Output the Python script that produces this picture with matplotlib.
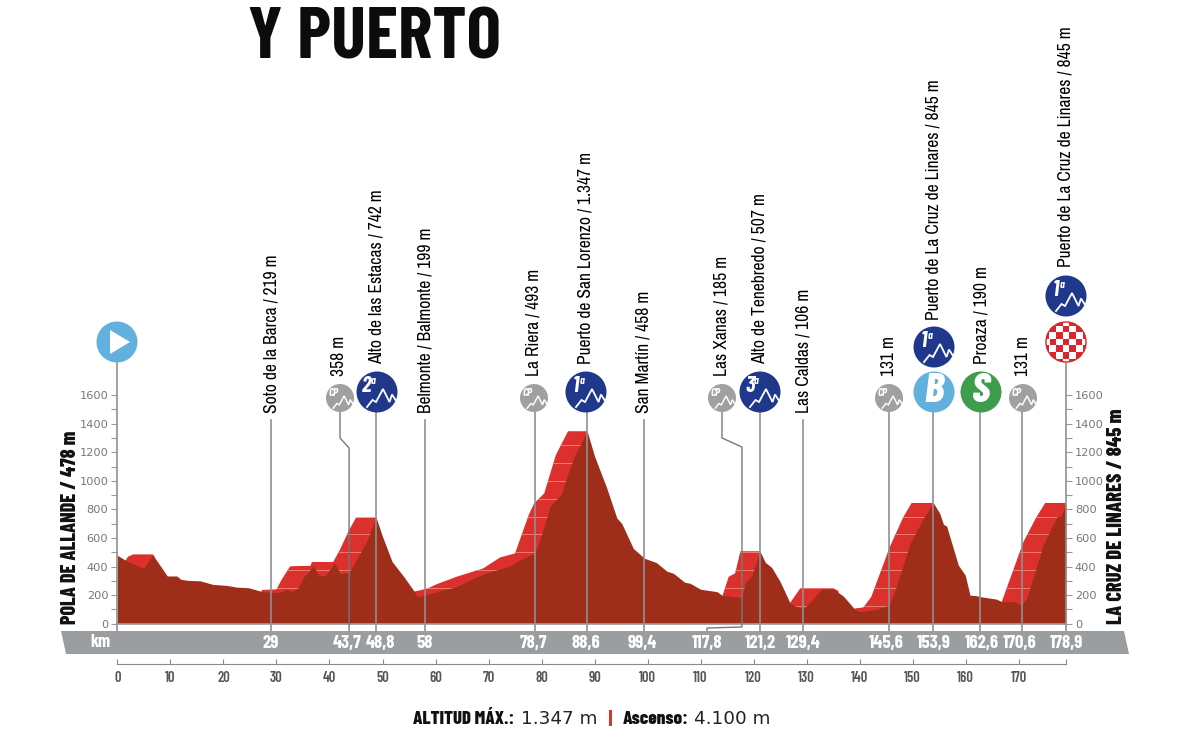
import numpy as np
import matplotlib
matplotlib.use("Agg")
import matplotlib.pyplot as plt
from matplotlib.patches import Circle, Polygon, Rectangle

COND = ["Barlow Condensed", "DejaVu Sans"]
NARROW = ["Archivo Narrow", "DejaVu Sans"]
WIDE = ["DejaVu Sans"]
plt.rcParams["font.family"] = COND

# stage profile, km and altitude in metres
profile_km = [0, 2, 4.9, 6.7, 8, 9.4, 11.2, 12, 13.4, 15.6, 18, 20.6, 22.5, 24.7, 27.2, 29, 31, 31.7, 32.9, 34.1,
              35, 37, 38, 39.2, 41, 42, 43.7, 45.1, 47, 48.8, 50, 51.8, 54, 56, 56.5, 58, 61, 64, 67.1, 70.3,
              74, 75.9, 78.7, 79.7, 81.6, 83.8, 85, 86.3, 88.6, 90, 92.3, 94.2, 95.1, 97.3, 99.4, 101.7, 103.6,
              104.9, 107, 108, 110, 113.1, 114, 116, 117.8, 118.4, 119.7, 121.2, 122.2, 123.4, 125, 126.9, 128.1,
              129.4, 131.3, 132.8, 135, 136.9, 139.1, 140, 143.2, 145.6, 146.6, 149.5, 152, 153.9, 155.1, 155.8,
              156.4, 158.6, 159.9, 160.8, 162, 162.6, 165.8, 166.8, 169, 170.6, 171.5, 174.6, 177.2, 178, 178.9]
profile_alt = [478, 434, 387, 480, 410, 334, 334, 310, 303, 300, 275, 268, 256, 252, 226, 219, 222, 240, 226, 252,
               320, 406, 336, 336, 425, 350, 358, 448, 576, 742, 610, 435, 330, 225, 190, 199, 232, 259, 317, 363,
               403, 445, 493, 585, 819, 912, 1053, 1181, 1347, 1171, 949, 739, 703, 527, 458, 427, 368,
               352, 290, 283, 241, 224, 200, 190, 185, 283, 341, 507, 429, 394, 294, 142, 119,
               106, 177, 243, 243, 194, 100, 84, 100, 131, 224, 562, 737, 845, 772, 695,
               683, 410, 340, 200, 196, 190, 172, 154, 154, 131, 177, 550, 749, 753, 845]

# red bands over each climb
climb_km = [
    [1.5, 2, 3, 6.7, 7],
    [27.2, 30, 31, 32.6, 36.4, 36.7, 40.7, 42, 43.6, 45, 48.8],
    [56, 58.4, 60.2, 64, 69, 72.2, 75, 77.6, 78.6, 80.5, 82.7, 85, 88.6],
    [114.2, 115.3, 116.5, 117.5, 121.2],
    [126.9, 128.8, 135, 136],
    [139.1, 140.7, 142.2, 145.7, 148.2, 149.8, 153.9],
    [166.8, 170.9, 173.3, 175, 178.9],
]
climb_alt = [
    [440, 469, 485, 485, 470],
    [236, 240, 310, 402, 405, 432, 432, 520, 648, 742, 742],
    [225, 245, 276, 329, 387, 464, 492, 763, 842, 912, 1181, 1347, 1347],
    [205, 329, 352, 507, 507],
    [147, 248, 248, 230],
    [107, 114, 189, 539, 744, 845, 845],
    [154, 574, 744, 845, 845],
]

# named points along the route
point_km = [29, 43.7, 48.8, 58, 78.7, 88.6, 99.4, 117.8, 121.2, 129.4, 145.6, 153.9, 162.6, 170.6, 178.9]
point_names = ["Soto de la Barca / 219 m", "358 m", "Alto de las Estacas / 742 m", "Belmonte / Balmonte / 199 m",
               "La Riera / 493 m", "Puerto de San Lorenzo / 1.347 m", "San Martín / 458 m", "Las Xanas / 185 m",
               "Alto de Tenebredo / 507 m", "Las Caldas / 106 m", "131 m", "Puerto de La Cruz de Linares / 845 m",
               "Proaza / 190 m", "131 m", "Puerto de La Cruz de Linares / 845 m"]
name_x = [271, 339, 377, 426, 534, 586, 643, 722, 760, 804, 889, 934, 981, 1023, 1066]
name_bottom = [413, 376, 364, 413, 376, 364, 413, 376, 364, 413, 376, 320, 364, 376, 267]
line_top = [420, 411, 405, 420, 411, 405, 420, 411, 405, 420, 411, 405, 405, 411, 355]
band_x = [271, 347, 380, 425, 533, 586, 642.5, 707, 760, 803, 886, 934, 982, 1020, 1066]

y_major = [0, 200, 400, 600, 800, 1000, 1200, 1400, 1600]
x_ticks = list(range(0, 171, 10))

PX_KM = 5.302
PX_M = 0.1429
X0 = 117.4
Y0 = 623.7
W, H = 1200, 737

DARK = "#9e2d19"
RED = "#dc302c"
LINE = "#8e9194"
NAVY = "#20388c"
SKY = "#62b0de"
GREEN = "#3f9c4a"
CP = "#a0a0a0"


def py(pix):
    # altitude that falls on a given pixel row
    return (Y0 - pix) / PX_M


def kx(pix):
    # km that falls on a given pixel column
    return (pix - X0) / PX_KM


fig = plt.figure(figsize=(W / 100, H / 100), dpi=100, facecolor="white")
ax = fig.add_axes([X0 / W, (H - Y0) / H, 178.9 * PX_KM / W, 1600 * PX_M / H])
ax.set_xlim(0, 178.9)
ax.set_ylim(0, 1600)
ax.patch.set_alpha(0)

for s in ["top", "left", "right"]:
    ax.spines[s].set_visible(False)
ax.spines["bottom"].set_position(("outward", 40 * 0.72))
ax.spines["bottom"].set_color("#8a8a8a")
ax.spines["bottom"].set_linewidth(0.8)

ax.set_xticks(x_ticks + [178.9])
ax.set_xticklabels([str(t) for t in x_ticks] + [""])
ax.tick_params(axis="x", direction="in", length=3.5, width=0.8, color="#8a8a8a", pad=5,
               labelsize=10.5, labelcolor="#555555")
for t in ax.get_xticklabels():
    t.set_fontweight(600)
ax.set_yticks(y_major)
ax.set_yticks([v + 100 for v in y_major[:-1]], minor=True)
ax.tick_params(axis="y", which="major", left=True, right=True, labelleft=True, labelright=True, length=4, width=0.8,
               color="#9a9a9a", pad=2.5)
ax.tick_params(axis="y", which="minor", left=True, right=True, length=4, width=0.8, color="#9a9a9a")
for t in ax.get_yticklabels():
    t.set_fontfamily(WIDE)
    t.set_fontsize(8.2)
    t.set_color("#777777")

# climbs first, the darker profile goes over them
for kms, alts in zip(climb_km, climb_alt):
    pts = list(zip(kms, alts)) + [(kms[-1], 0), (kms[0], 0)]
    poly = Polygon(pts, closed=True, facecolor=RED, edgecolor="none", zorder=2)
    ax.add_patch(poly)
    for level in np.arange(125, 1400, 125):
        ln = ax.plot([kms[0], kms[-1]], [level, level], color="#ee7d70", lw=0.7, zorder=2.1)[0]
        ln.set_clip_path(poly)

ax.fill_between(profile_km, profile_alt, 0, color=DARK, lw=0, zorder=3)
ax.plot([0, 178.9], [0, 0], color="#a0a0a0", lw=1.2, zorder=4, clip_on=False)

# vertical markers down to the km strip
for i, km in enumerate(point_km):
    if km == 43.7:
        ax.plot([kx(340), kx(340), km, km], [py(line_top[i]), py(438), py(448), py(631)],
                color="#77797b", lw=1, zorder=5, clip_on=False)
    elif km == 117.8:
        ax.plot([kx(722), kx(722), km, km, kx(707), kx(707)],
                [py(line_top[i]), py(438), py(447), py(627), py(628), py(631)],
                color="#77797b", lw=1, zorder=5, clip_on=False)
    else:
        ax.plot([km, km], [py(line_top[i]), py(631)], color=LINE, lw=1.2, zorder=5, clip_on=False)
ax.plot([0, 0], [py(355), py(631)], color=LINE, lw=1.2, zorder=5, clip_on=False)

# overlay in pixel units for badges and labels
ov = fig.add_axes([0, 0, 1, 1], zorder=10)
ov.set_xlim(0, W)
ov.set_ylim(H, 0)
ov.axis("off")
ov.patch.set_alpha(0)

ov.add_patch(Polygon([(61, 631), (1124, 631), (1129, 654), (66, 654)], closed=True, facecolor="#9a9ea1",
                     edgecolor="none", zorder=1))
ov.text(100, 642.5, "km", color="white", fontsize=13, fontweight="bold", ha="center", va="center")
for km, x in zip(point_km, band_x):
    ov.text(x, 643.5, f"{km:g}".replace(".", ","), color="white", fontsize=13.5, fontweight="bold",
            ha="center", va="center")

for name, x, b in zip(point_names, name_x, name_bottom):
    ov.text(x, b, name, rotation=90, ha="center", va="bottom", fontsize=12.6, color="black", family=NARROW)

ov.text(71, 624, "POLA DE ALLANDE / 478 m", rotation=90, ha="center", va="bottom", fontsize=14.4,
        fontweight=800, color="#111111")
ov.text(1116, 624, "LA CRUZ DE LINARES / 845 m", rotation=90, ha="center", va="bottom", fontsize=14.7,
        fontweight=800, color="#111111")

ov.text(374, 58, "Y PUERTO", ha="center", va="baseline", fontsize=52.5, fontweight=700, color="#0c0c0c")

# footer
ov.text(413, 719, "ALTITUD MÁX.:", ha="left", va="center", fontsize=13.5, fontweight=800, color="#111111")
ov.text(521, 719, "1.347 m", ha="left", va="center", fontsize=13.2, family=WIDE, color="#222222")
ov.add_patch(Rectangle((609, 710), 2.5, 16, facecolor="#d0392e", edgecolor="none"))
ov.text(623, 719, "Ascenso:", ha="left", va="center", fontsize=13.7, fontweight=800, color="#111111")
ov.text(694, 719, "4.100 m", ha="left", va="center", fontsize=13.2, family=WIDE, color="#222222")


def peak_icon(cx, cy, r):
    # white mountain zigzag inside a badge
    s = r / 20.5
    dx = np.array([-10, -4.5, -1, 6, 12.5, 15, 18.5]) * s
    dy = np.array([15, 8, 10, -3, 10, 2.5, 8]) * s
    ov.plot(cx + dx, cy + dy, color="white", lw=1.3 * max(s, 0.8), zorder=4, solid_joinstyle="miter")


def mountain_badge(cx, cy, cat):
    ov.add_patch(Circle((cx, cy), 20.5, facecolor=NAVY, edgecolor="none", zorder=3))
    peak_icon(cx, cy, 20.5)
    ov.text(cx - 10, cy - 6, cat, color="white", fontsize=16, fontstyle="italic", fontweight="bold",
            ha="center", va="center", zorder=5)
    ov.text(cx - 3.5, cy - 11, "a", color="white", fontsize=8, fontstyle="italic", fontweight="bold",
            ha="center", va="center", zorder=5)


def cp_badge(cx, cy):
    ov.add_patch(Circle((cx, cy), 14, facecolor=CP, edgecolor="none", zorder=3))
    peak_icon(cx, cy, 14)
    ov.text(cx - 6, cy - 5.5, "CP", color="white", fontsize=8, fontstyle="italic", fontweight="bold",
            ha="center", va="center", zorder=5)


for x in [340, 534, 722, 889, 1023]:
    cp_badge(x, 398)
mountain_badge(377, 392, "2")
mountain_badge(586, 392, "1")
mountain_badge(760, 392, "3")
mountain_badge(934, 347, "1")
mountain_badge(1066, 296, "1")

ov.add_patch(Circle((934, 392), 20.5, facecolor=SKY, edgecolor="none", zorder=3))
ov.text(934, 391, "B", color="white", fontsize=30, fontstyle="italic", fontweight=800, ha="center",
        va="center", zorder=5)
ov.add_patch(Circle((981, 392), 20.5, facecolor=GREEN, edgecolor="none", zorder=3))
ov.text(981, 391, "S", color="white", fontsize=30, fontstyle="italic", fontweight=800, ha="center",
        va="center", zorder=5)

# finish badge
clip = Circle((1066, 342), 20.5, transform=ov.transData)
cell = 6.6
for i in range(-4, 4):
    for j in range(-4, 4):
        c = "#d8262c" if (i + j) % 2 == 0 else "white"
        r = ov.add_patch(Rectangle((1066 + i * cell + cell / 2, 342 + j * cell + cell / 2), cell, cell, facecolor=c,
                                   edgecolor="none", zorder=3))
        r.set_clip_path(clip)
ov.add_patch(Circle((1066, 342), 20, facecolor="none", edgecolor="#d8262c", lw=1, zorder=4))

# start badge
ov.add_patch(Circle((117, 342), 20.5, facecolor=SKY, edgecolor="none", zorder=3))
ov.add_patch(Polygon([(110, 330), (130, 342), (110, 354)], closed=True, facecolor="white", edgecolor="none", zorder=4))

fig.savefig("out.png", dpi=100)
